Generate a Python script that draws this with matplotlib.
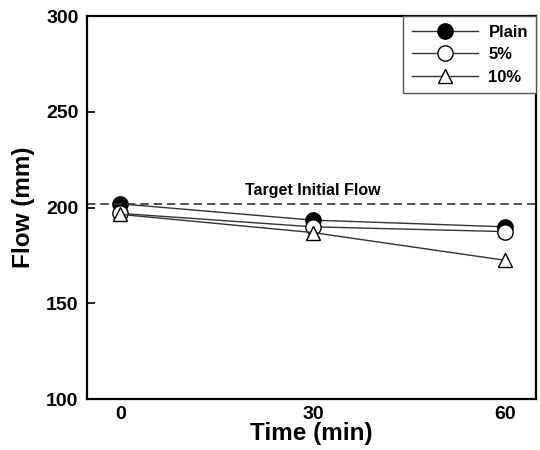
import matplotlib
matplotlib.use("Agg")
import matplotlib.pyplot as plt

plt.rcParams['font.family'] = ['Liberation Sans', 'DejaVu Sans']
plt.rcParams['font.weight'] = 'bold'

# datos
time = [0, 30, 60]
plain = [202, 193.5, 190]
p5 = [197, 190, 187.5]
p10 = [196.5, 187, 172.5]
target = 202

fig = plt.figure(figsize=(5.4, 4.5), dpi=100)
ax = fig.add_axes([0.161, 0.113, 0.832, 0.851])

ax.plot(time, plain, color='#333333', lw=1, marker='o', ms=11,
        mfc='black', mec='black', label='Plain')
ax.plot(time, p5, color='#333333', lw=1, marker='o', ms=11,
        mfc='white', mec='black', label='5%')
ax.plot(time, p10, color='#333333', lw=1, marker='^', ms=10,
        mfc='white', mec='black', label='10%')

ax.axhline(target, color='#333333', lw=1.2, ls=(0, (5, 3)))
ax.text(30, target + 3, 'Target Initial Flow', ha='center', va='bottom',
        fontsize=11.5, fontweight='bold')

ax.set_xlim(-5.2, 64.8)
ax.set_ylim(100, 300)
ax.set_xticks([0, 30, 60])
ax.set_yticks([100, 150, 200, 250, 300])
ax.tick_params(axis='x', length=0, labelsize=14, pad=5)
ax.tick_params(axis='y', direction='in', length=6, width=1.2, labelsize=14, pad=6)

ax.set_xlabel('Time (min)', fontsize=17.5, fontweight='bold', labelpad=-1)
ax.set_ylabel('Flow (mm)', fontsize=17.5, fontweight='bold', labelpad=8)

for s in ax.spines.values():
    s.set_linewidth(1.6)

leg = ax.legend(loc='upper right', fontsize=12, handlelength=4.0,
                fancybox=False, framealpha=1, borderaxespad=0,
                edgecolor='#555555', labelspacing=0.45, borderpad=0.5,
                handletextpad=0.6)
leg.get_frame().set_linewidth(1)

fig.savefig('out.png', dpi=100)
